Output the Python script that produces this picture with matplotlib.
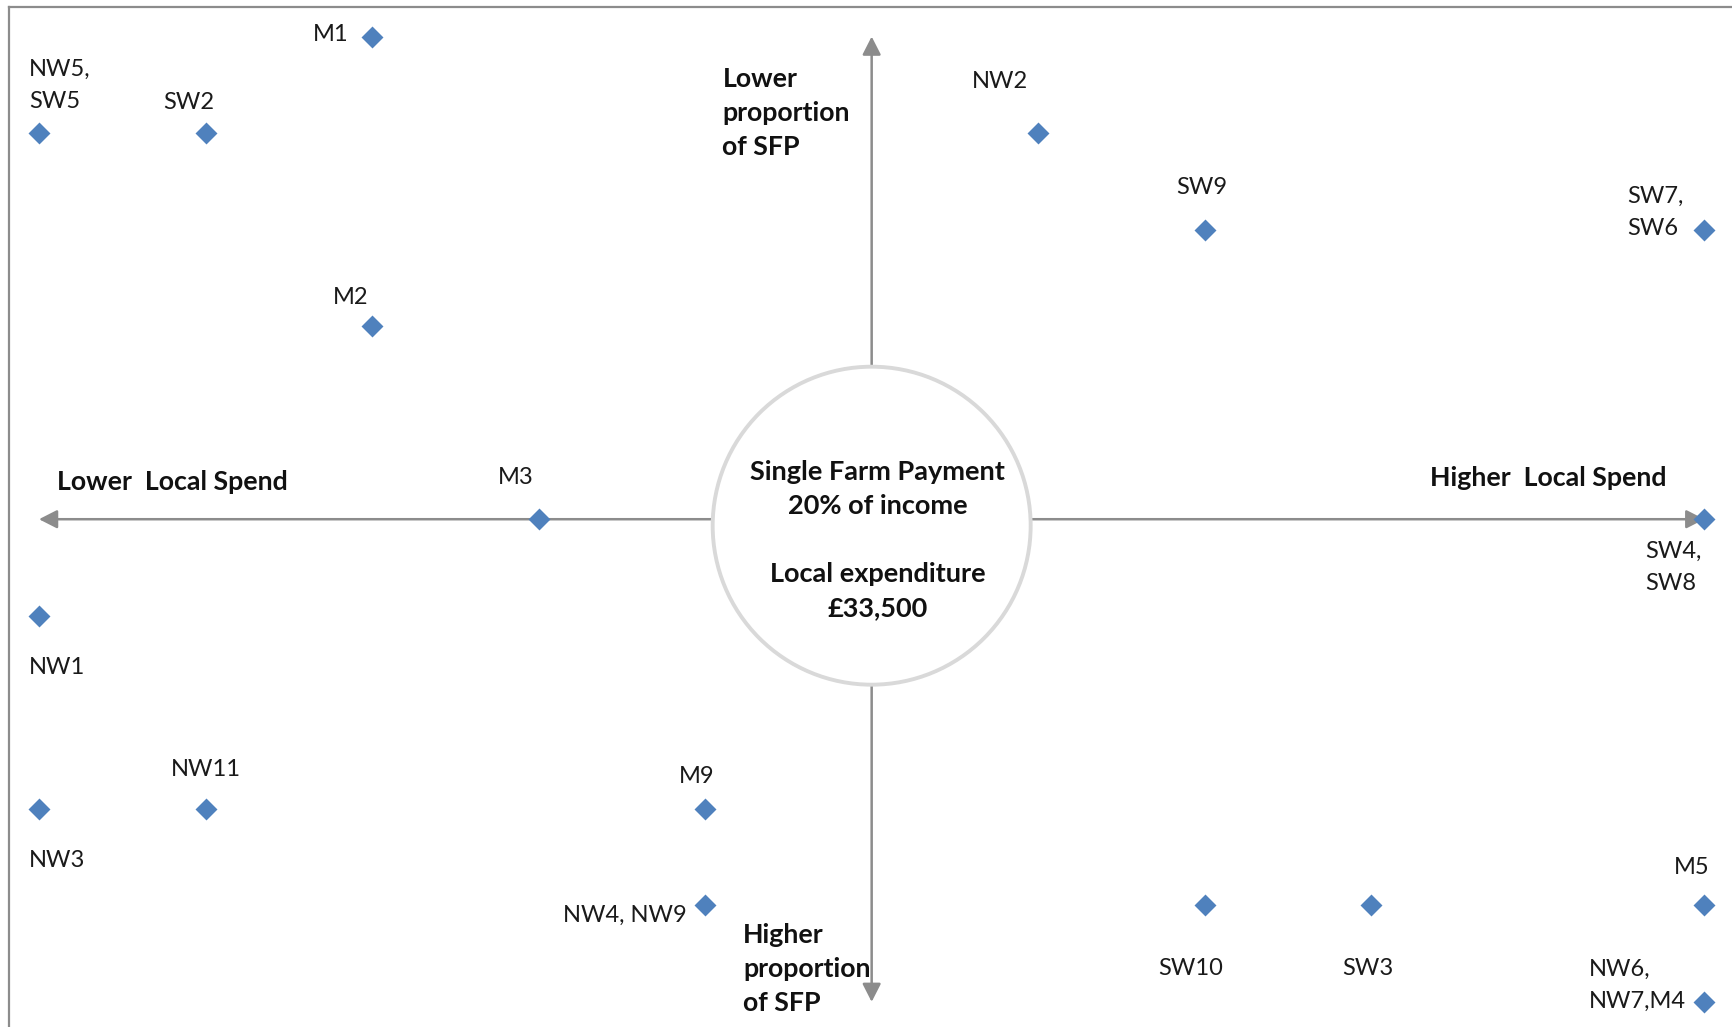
import matplotlib
matplotlib.use("Agg")
import matplotlib.pyplot as plt
from matplotlib.patches import Ellipse

plt.rcParams['font.family'] = ['Lato', 'DejaVu Sans']

# ---- data ----
labels = ["M1", "NW5,\nSW5", "SW2", "NW2", "SW9", "SW7,\nSW6", "M2", "M3",
          "SW4,\nSW8", "NW1", "NW11", "NW3", "M9", "NW4, NW9", "SW10", "SW3",
          "M5", "NW6,\nNW7,M4"]
local_spend = [-3, -5, -4, 1, 2, 5, -3, -2, 5, -5, -4, -5, -1, -1, 2, 3, 5, 5]
sfp_position = [5, 4, 4, 4, 3, 3, 2, 0, 0, -1, -3, -3, -3, -4, -4, -4, -4, -5]

# label offsets (pixels) and alignment
offsets = [(-41, 2, 'center'), (-10, 48, 'left'), (-17, 31, 'center'),
           (-38, 52, 'center'), (-3, 42, 'center'), (-77, 17, 'left'),
           (-21, 29, 'center'), (-23, 42, 'center'), (-59, -48, 'left'),
           (18, -52, 'center'), (0, 39, 'center'), (18, -52, 'center'),
           (-8, 32, 'center'), (-18, -10, 'right'), (-14, -63, 'center'),
           (-3, -63, 'center'), (-13, 38, 'center'), (-115, 17, 'left')]

W, H = 1732, 1027
fig = plt.figure(figsize=(W / 100, H / 100), dpi=100)
ax = fig.add_axes([9 / W, 0, 1 - 9 / W, 1020 / H])
ax.set_xlim(-5.180, 5.166)
ax.set_ylim(-5.260, 5.306)
ax.set_xticks([])
ax.set_yticks([])
for s in ['right', 'bottom']:
    ax.spines[s].set_visible(False)
for s in ['left', 'top']:
    ax.spines[s].set_color('#8c8c8c')
    ax.spines[s].set_linewidth(1.6)

arrow_color = '#8c8c8c'
aprops = dict(arrowstyle='-|>,head_length=0.55,head_width=0.28', color=arrow_color,
              lw=1.8, shrinkA=0, shrinkB=0, mutation_scale=20)
for tip in [(-5, 0), (5, 0), (0, 5), (0, -5)]:
    ax.annotate('', xy=tip, xytext=(0, 0), arrowprops=aprops, zorder=1)

# central circle (pixel-round): radius 159 px
rx = 159 / 166.54
ry = 159 / 96.54
circ = Ellipse((0.0, -0.067), 2 * rx, 2 * ry, facecolor='white', edgecolor='#d9d9d9',
               lw=2.8, zorder=2)
ax.add_patch(circ)
ax.text(0.035, -0.215, "Single Farm Payment\n20% of income\n\nLocal expenditure\n£33,500",
        ha='center', va='center', fontsize=19.5, fontweight='bold', color='#111111',
        linespacing=1.5, zorder=3)

ax.scatter(local_spend, sfp_position, marker='D', s=125, color='#4f81bd', zorder=4,
           linewidths=0)

for lab, x, y, (dx, dy, ha) in zip(labels, local_spend, sfp_position, offsets):
    ax.annotate(lab, (x, y), xytext=(dx * 0.72, dy * 0.72), textcoords='offset points',
                ha=ha, va='center', fontsize=17, color='#1a1a1a', linespacing=1.65,
                multialignment='left', zorder=5)

bold = dict(fontsize=19.3, fontweight='bold', color='#111111', zorder=5)
ax.text(-4.89, 0.389, "Lower  Local Spend", ha='left', va='center', **bold)
ax.text(4.774, 0.424, "Higher  Local Spend", ha='right', va='center', **bold)
ax.text(-0.896, 4.211, "Lower\nproportion\nof SFP", ha='left', va='center',
        linespacing=1.5, **bold)
ax.text(-0.771, -4.656, "Higher\nproportion\nof SFP", ha='left', va='center',
        linespacing=1.5, **bold)

fig.savefig("out.png", dpi=100, facecolor='white')
